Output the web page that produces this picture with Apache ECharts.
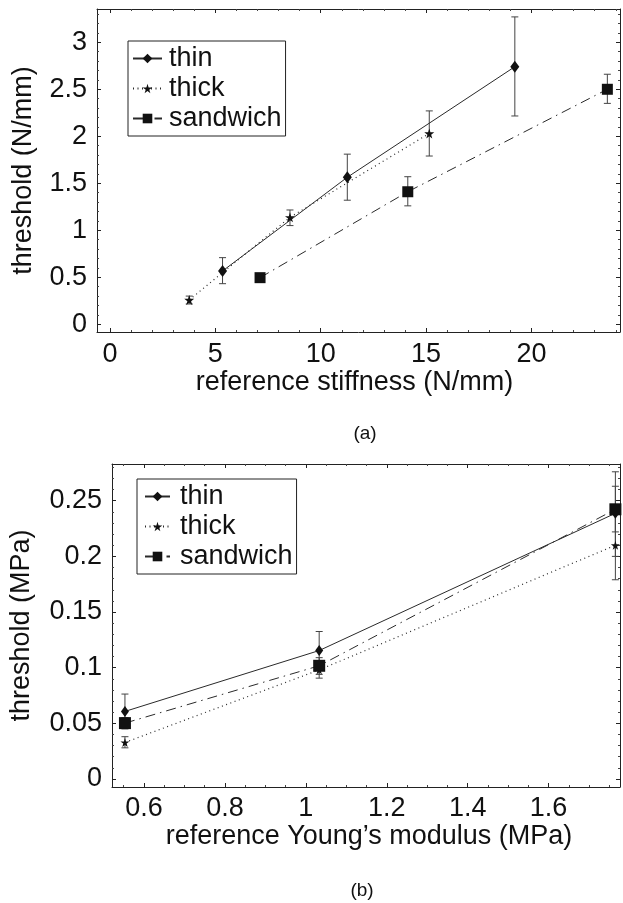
<!DOCTYPE html>
<html>
<head>
<meta charset="utf-8">
<script src="https://cdn.jsdelivr.net/npm/echarts@6/dist/echarts.min.js"></script>
<style>
html,body{margin:0;padding:0;background:#fff;}
#chart{width:623px;height:903px;}
</style>
</head>
<body>
<div id="chart"></div>
<script>
// ---------- DATA ----------
// (a) threshold (N/mm) vs reference stiffness (N/mm)
const topThinX = [5.34, 11.26, 19.21];
const topThinY = [0.567, 1.564, 2.74];
const topThinLo = [0.432, 1.32, 2.216];
const topThinHi = [0.709, 1.81, 3.27];
const topThickX = [3.76, 8.54, 15.15];
const topThickY = [0.259, 1.138, 2.03];
const topThickLo = [0.216, 1.05, 1.79];
const topThickHi = [0.30, 1.216, 2.27];
const topSandX = [7.12, 14.13, 23.6];
const topSandY = [0.496, 1.41, 2.5];
const topSandLo = [0.46, 1.26, 2.35];
const topSandHi = [0.53, 1.57, 2.66];

// (b) threshold (MPa) vs reference Young's modulus (MPa)
const botX = [0.553, 1.033, 1.765];
const botThinY = [0.0607, 0.1154, 0.2387];
const botThinLo = [0.046, 0.099, 0.200];
const botThinHi = [0.0763, 0.1325, 0.276];
const botThickY = [0.0328, 0.098, 0.210];
const botThickLo = [0.028, 0.0906, 0.179];
const botThickHi = [0.038, 0.105, 0.241];
const botSandY = [0.0502, 0.1017, 0.2423];
const botSandLo = [0.045, 0.094, 0.222];
const botSandHi = [0.055, 0.109, 0.263];

const seriesNames = ['thin', 'thick', 'sandwich'];

// tick labels
const topXTicks = [0, 5, 10, 15, 20];
const topYTicks = [0, 0.5, 1, 1.5, 2, 2.5, 3];
const botXTicks = [0.6, 0.8, 1, 1.2, 1.4, 1.6];
const botYTicks = [0, 0.05, 0.1, 0.15, 0.2, 0.25];

function minorTicks(from, to, step, majors) {
  const out = [];
  for (let i = 0; from + i * step <= to + 1e-9; i++) {
    const v = +(from + i * step).toFixed(4);
    if (!majors.some(m => Math.abs(m - v) < 1e-9)) out.push(v);
  }
  return out;
}
const topXMinor = minorTicks(0, 24, 1, topXTicks);
const topYMinor = minorTicks(0, 3.3, 0.1, topYTicks);
const botXMinor = minorTicks(0.55, 1.75, 0.05, botXTicks);
const botYMinor = minorTicks(0, 0.28, 0.01, botYTicks);

// ---------- STYLE ----------
const FONT = 'Liberation Sans';
const INK = '#111';
const LINE = '#2a2a2a';
const STAR = 'path://M50,0 L61,35 L98,35 L68,57 L79,91 L50,70 L21,91 L32,57 L2,35 L39,35 Z';
const fmt = v => String(+(+v).toFixed(3));

function makeAxes(dim, grid, min, max, major, minor, labelMargin, name, nameGap, namePad) {
  const base = {
    type: 'value', gridIndex: grid, min: min, max: max,
    splitLine: {show: false},
    axisLine: {show: true, onZero: false, lineStyle: {color: '#222', width: 1}},
    axisLabel: {show: false},
    axisTick: {show: true, inside: true, length: 4, customValues: major, lineStyle: {color: '#222', width: 1}}
  };
  const posA = dim === 'x' ? 'bottom' : 'left';
  const posB = dim === 'x' ? 'top' : 'right';
  const minorTick = {show: true, inside: true, length: 2, customValues: minor, lineStyle: {color: '#444', width: 1}};
  return [
    Object.assign({}, base, {
      position: posA, name: name, nameLocation: 'middle', nameGap: nameGap,
      nameTextStyle: {fontSize: 27, fontFamily: FONT, color: INK, padding: namePad},
      axisLabel: {show: true, customValues: major, formatter: fmt, fontSize: 27, fontFamily: FONT, color: INK, margin: labelMargin}
    }),
    Object.assign({}, base, {position: posA, axisLine: {show: false, onZero: false}, axisTick: minorTick}),
    Object.assign({}, base, {position: posB}),
    Object.assign({}, base, {position: posB, axisLine: {show: false, onZero: false}, axisTick: minorTick})
  ];
}

const xAxes = [].concat(
  makeAxes('x', 0, -0.617, 24.2, topXTicks, topXMinor, 9, 'reference stiffness (N/mm)', 34, [0, 8, 0, 0]),
  makeAxes('x', 1, 0.521, 1.7764, botXTicks, botXMinor, 8, 'reference Young\u2019s modulus (MPa)', 36, [0, 0, 0, 6])
);
const yAxes = [].concat(
  makeAxes('y', 0, -0.082, 3.354, topYTicks, topYMinor, 10, 'threshold (N/mm)', 60, 0),
  makeAxes('y', 1, -0.0072, 0.283, botYTicks, botYMinor, 10, 'threshold (MPa)', 77, 0)
);

function pts(xs, ys) { return xs.map((x, i) => [x, ys[i]]); }
function errs(xs, lo, hi) { return xs.map((x, i) => [x, lo[i], hi[i]]); }

function errRender(params, api) {
  const x = api.value(0), lo = api.value(1), hi = api.value(2);
  const p1 = api.coord([x, lo]), p2 = api.coord([x, hi]);
  const w = 3.5;
  const st = {stroke: '#444', lineWidth: 1};
  return {type: 'group', children: [
    {type: 'line', shape: {x1: p1[0], y1: p1[1], x2: p2[0], y2: p2[1]}, style: st},
    {type: 'line', shape: {x1: p1[0] - w, y1: p1[1], x2: p1[0] + w, y2: p1[1]}, style: st},
    {type: 'line', shape: {x1: p2[0] - w, y1: p2[1], x2: p2[0] + w, y2: p2[1]}, style: st}
  ]};
}

const styles = {
  thin: {symbol: 'diamond', symbolSize: [9, 12], lineStyle: {color: LINE, width: 1, type: 'solid'}},
  thick: {symbol: STAR, symbolSize: 10, lineStyle: {color: LINE, width: 1.2, type: [1, 3.5]}},
  sandwich: {symbol: 'rect', symbolSize: 11, lineStyle: {color: LINE, width: 1, type: [10, 5, 1.5, 5]}}
};

function lineSeries(name, axisIdx, data, sizeOverride) {
  const s = styles[name];
  return {
    type: 'line', name: name, xAxisIndex: axisIdx, yAxisIndex: axisIdx, data: data,
    symbol: s.symbol, symbolSize: sizeOverride || s.symbolSize, showSymbol: true,
    itemStyle: {color: INK, borderWidth: 0},
    lineStyle: s.lineStyle, z: 3, silent: true
  };
}
function errSeries(axisIdx, data) {
  return {
    type: 'custom', name: 'err', xAxisIndex: axisIdx, yAxisIndex: axisIdx,
    renderItem: errRender, data: data, z: 2, silent: true,
    encode: {x: 0, y: [1, 2]}
  };
}

const series = [
  errSeries(0, errs(topThinX, topThinLo, topThinHi)),
  errSeries(0, errs(topThickX, topThickLo, topThickHi)),
  errSeries(0, errs(topSandX, topSandLo, topSandHi)),
  lineSeries('thin', 0, pts(topThinX, topThinY)),
  lineSeries('thick', 0, pts(topThickX, topThickY)),
  lineSeries('sandwich', 0, pts(topSandX, topSandY)),
  errSeries(4, errs(botX, botThinLo, botThinHi)),
  errSeries(4, errs(botX, botThickLo, botThickHi)),
  errSeries(4, errs(botX, botSandLo, botSandHi)),
  lineSeries('thin', 4, pts(botX, botThinY), [8, 11]),
  lineSeries('thick', 4, pts(botX, botThickY), 9),
  lineSeries('sandwich', 4, pts(botX, botSandY), 12)
];

function legend(left, top, pad, iw, textPad) {
  return {
    left: left, top: top, orient: 'vertical', data: seriesNames,
    backgroundColor: '#fff', borderColor: '#222', borderWidth: 1,
    padding: pad, itemGap: 3, itemWidth: iw, itemHeight: 12,
    selectedMode: false,
    textStyle: {fontSize: 27, fontFamily: FONT, color: INK, padding: textPad}
  };
}

const option = {
  animation: false,
  backgroundColor: '#fff',
  textStyle: {fontFamily: FONT},
  grid: [
    {left: 97, top: 9, width: 523, height: 323},
    {left: 104, top: 464, width: 516, height: 323}
  ],
  xAxis: xAxes,
  yAxis: yAxes,
  legend: [
    legend(128, 41, [4, 4, 4, 4], 29, [0, 0, 0, 2]),
    legend(137, 479, [4, 4, 4, 7], 25, [0, 0, 0, 5])
  ],
  graphic: [
    {type: 'text', x: 365, y: 434, style: {text: '(a)', font: '19px "Liberation Sans"', fill: INK, textAlign: 'center', textVerticalAlign: 'middle'}},
    {type: 'text', x: 362, y: 891, style: {text: '(b)', font: '19px "Liberation Sans"', fill: INK, textAlign: 'center', textVerticalAlign: 'middle'}}
  ],
  series: series
};

const chart = echarts.init(document.getElementById('chart'), null, {renderer: 'canvas'});
chart.setOption(option);
</script>
</body>
</html>
